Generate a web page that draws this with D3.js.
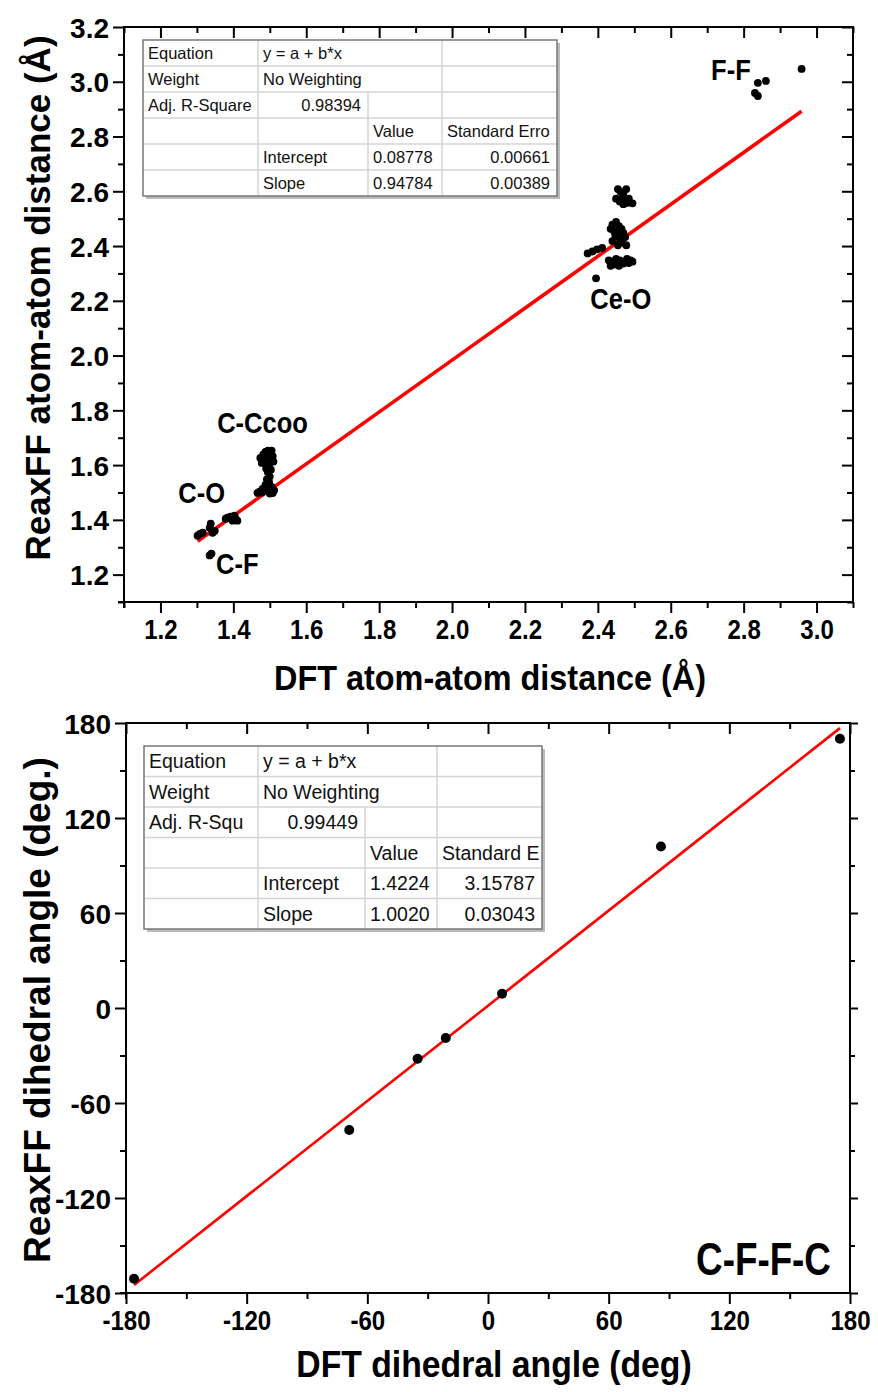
<!DOCTYPE html>
<html><head><meta charset="utf-8">
<script src="https://cdn.jsdelivr.net/npm/d3@7"></script>
<style>
body{margin:0;background:#fff}
text{font-family:"Liberation Sans",Arial,sans-serif}
</style>
</head><body>
<svg id="c" width="878" height="1392"></svg>
<script>
// ---------- Data: top panel (bond distances) ----------
const distDFT = [
  1.335,1.340,
  1.302,1.308,1.316,1.335,1.338,1.343,1.349,1.379,1.384,1.392,1.403,1.406,1.411,1.398,
  1.474,1.478,1.482,1.488,1.492,1.495,1.500,1.505,1.508,1.510,1.498,1.490,1.495,1.500,1.492,1.498,1.488,1.480,1.472,1.466,1.478,1.486,1.495,1.505,1.512,1.508,1.500,1.503,1.486,
  2.455,2.462,2.470,2.478,2.468,2.475,2.485,2.460,2.470,2.482,2.495,2.450,
  2.440,2.450,2.458,2.465,2.445,2.455,2.470,2.475,2.460,2.448,2.435,2.465,2.478,2.455,2.440,
  2.372,2.385,2.398,2.412,
  2.430,2.440,2.450,2.460,2.470,2.480,2.490,2.445,2.458,2.470,2.485,2.435,2.495,
  2.395,
  2.839,2.861,2.831,2.839,2.959
];
const distReax = [
  1.270,1.277,
  1.342,1.349,1.353,1.371,1.386,1.353,1.360,1.404,1.408,1.412,1.415,1.404,1.397,1.397,
  1.626,1.608,1.638,1.648,1.620,1.653,1.643,1.653,1.633,1.613,1.603,1.588,1.573,1.558,1.548,1.538,1.528,1.513,1.503,1.498,1.500,1.508,1.516,1.520,1.508,1.498,1.496,1.583,1.618,
  2.608,2.598,2.593,2.608,2.578,2.568,2.573,2.563,2.553,2.558,2.556,2.573,
  2.478,2.488,2.473,2.463,2.453,2.448,2.448,2.433,2.428,2.438,2.463,2.413,2.403,2.403,2.418,
  2.373,2.380,2.388,2.393,
  2.348,2.343,2.353,2.348,2.343,2.353,2.348,2.333,2.328,2.336,2.338,2.328,2.343,
  2.282,
  2.996,3.003,2.959,2.948,3.047
];
const distLabels = ["C-F","C-O","C-Ccoo","Ce-O","F-F"];
const distLabelX = [1.411,1.313,1.480,2.463,2.765];
const distLabelY = [1.240,1.500,1.756,2.209,3.044];
const distXTicks = [1.2,1.4,1.6,1.8,2.0,2.2,2.4,2.6,2.8,3.0];
const distYTicks = [1.2,1.4,1.6,1.8,2.0,2.2,2.4,2.6,2.8,3.0,3.2];
const distFit = {a:0.08778, b:0.94784};
const distTable = [
  ["Equation","y = a + b*x","",""],
  ["Weight","No Weighting","",""],
  ["Adj. R-Square","0.98394","",""],
  ["","","Value","Standard Erro"],
  ["","Intercept","0.08778","0.00661"],
  ["","Slope","0.94784","0.00389"]
];

// ---------- Data: bottom panel (dihedral angles) ----------
const angDFT  = [-176,-69,-35,-21,7,86,175];
const angReax = [-171,-77,-32,-19,9,102,170];
const angTicks = [-180,-120,-60,0,60,120,180];
const angFit = {a:1.4224, b:1.0020};
const angTable = [
  ["Equation","y = a + b*x","",""],
  ["Weight","No Weighting","",""],
  ["Adj. R-Squ","0.99449","",""],
  ["","","Value","Standard E"],
  ["","Intercept","1.4224","3.15787"],
  ["","Slope","1.0020","0.03043"]
];
const angLabel = "C-F-F-C";

// ---------- Drawing ----------
const svg = d3.select("#c");

function panel(o){
  const g = svg.append("g").attr("transform",`translate(${o.left},${o.top})`);
  const W = o.right-o.left, H = o.bottom-o.top;
  const x = d3.scaleLinear().domain(o.xDomain).range([0,W]);
  const y = d3.scaleLinear().domain(o.yDomain).range([H,0]);

  const styleAxis = sel => {
    sel.selectAll("path.domain").remove();
    sel.selectAll(".tick line").attr("stroke","#000").attr("stroke-width",2);
  };
  const gb = g.append("g").attr("transform",`translate(0,${H})`)
    .call(d3.axisBottom(x).tickValues(o.xMajor).tickSize(11).tickFormat(o.xFmt));
  styleAxis(gb);
  gb.selectAll("text").attr("y",17).attr("dy","0.71em")
    .attr("font-size",o.tickFont).attr("font-weight","bold").attr("fill","#000")
    .attr("transform","scale(0.86,1)");
  const gbm = g.append("g").attr("transform",`translate(0,${H})`)
    .call(d3.axisBottom(x).tickValues(o.xMinor).tickSize(6).tickFormat(""));
  styleAxis(gbm);
  const gl = g.append("g")
    .call(d3.axisLeft(y).tickValues(o.yMajor).tickSize(11).tickFormat(o.yFmt));
  styleAxis(gl);
  gl.selectAll("text").attr("x",-15).attr("dy","0.36em")
    .attr("font-size",o.tickFont).attr("font-weight","bold").attr("fill","#000");
  const glm = g.append("g").call(d3.axisLeft(y).tickValues(o.yMinor).tickSize(6).tickFormat(""));
  styleAxis(glm);
  const gt = g.append("g").call(d3.axisTop(x).tickValues(o.xMajor).tickSize(-11).tickFormat(""));
  styleAxis(gt);
  const gtm = g.append("g").call(d3.axisTop(x).tickValues(o.xMinor).tickSize(-6).tickFormat(""));
  styleAxis(gtm);
  const gr = g.append("g").attr("transform",`translate(${W},0)`)
    .call(d3.axisRight(y).tickValues(o.yMajor).tickSize(o.rightIn?-11:8).tickFormat(""));
  styleAxis(gr);
  const grm = g.append("g").attr("transform",`translate(${W},0)`)
    .call(d3.axisRight(y).tickValues(o.yMinor).tickSize(o.rightIn?-6:5).tickFormat(""));
  styleAxis(grm);
  g.append("rect").attr("x",0).attr("y",0).attr("width",W).attr("height",H)
    .attr("fill","none").attr("stroke","#000").attr("stroke-width",2);
  g.append("line").attr("x1",-6).attr("x2",0).attr("y1",H).attr("y2",H).attr("stroke","#000").attr("stroke-width",2);
  g.append("line").attr("x1",0).attr("x2",0).attr("y1",H).attr("y2",H+6).attr("stroke","#000").attr("stroke-width",2);

  const xs = d3.extent(o.xs);
  g.append("line")
    .attr("x1",x(xs[0])).attr("y1",y(o.fit.a+o.fit.b*xs[0]))
    .attr("x2",x(xs[1])).attr("y2",y(o.fit.a+o.fit.b*xs[1]))
    .attr("stroke","#ff0000").attr("stroke-width",o.lineW);
  g.append("g").selectAll("circle").data(o.xs.map((v,i)=>[v,o.ys[i]])).join("circle")
    .attr("cx",d=>x(d[0])).attr("cy",d=>y(d[1])).attr("r",o.r).attr("fill","#000");

  svg.append("text").attr("transform",`translate(${o.yTitleX},${o.yTitleY}) rotate(-90)`)
    .attr("text-anchor","middle").attr("font-size",o.yTitleFont).attr("font-weight","bold").text(o.yTitle);
  svg.append("text").attr("transform",`translate(${o.xTitleX},${o.xTitleY}) scale(0.9,1)`)
    .attr("text-anchor","middle").attr("font-size",o.xTitleFont).attr("font-weight","bold").text(o.xTitle);

  const tb = o.table;
  const tg = svg.append("g").attr("transform",`translate(${tb.x},${tb.y})`);
  const cols = tb.cols, rh = tb.rh, nR = tb.rows.length;
  const TW = cols[cols.length-1], TH = rh*nR;
  tg.append("rect").attr("x",3).attr("y",3).attr("width",TW).attr("height",TH).attr("fill","#bbb");
  tg.append("rect").attr("x",0).attr("y",0).attr("width",TW).attr("height",TH).attr("fill","#fff");
  for(let r=1;r<nR;r++) tg.append("line").attr("x1",0).attr("x2",TW).attr("y1",r*rh).attr("y2",r*rh).attr("stroke","#d4d4d4").attr("stroke-width",1.5);
  [1,3].forEach(c=>tg.append("line").attr("x1",cols[c]).attr("x2",cols[c]).attr("y1",0).attr("y2",TH).attr("stroke","#d4d4d4").attr("stroke-width",1.5));
  tg.append("line").attr("x1",cols[2]).attr("x2",cols[2]).attr("y1",2*rh).attr("y2",TH).attr("stroke","#d4d4d4").attr("stroke-width",1.5);
  tg.append("rect").attr("x",0).attr("y",0).attr("width",TW).attr("height",TH).attr("fill","none").attr("stroke","#777").attr("stroke-width",1.5);
  const rightAligned = (r,c)=> (r===2&&c===1)||(r>=4&&c===3);
  tb.rows.forEach((row,r)=>row.forEach((t,c)=>{
    if(!t) return;
    const ra = rightAligned(r,c);
    tg.append("text")
      .attr("x", ra ? cols[c+1]-7 : cols[c]+5)
      .attr("y", r*rh+rh/2).attr("dy","0.36em")
      .attr("text-anchor", ra?"end":"start")
      .attr("font-size",tb.font).attr("fill","#111").text(t);
  }));

  return {g,x,y};
}

const topP = panel({
  left:124,right:853,top:27,bottom:602,
  xDomain:[1.1,3.1], yDomain:[1.1,3.2],
  xMajor:distXTicks, xMinor:d3.range(11,32,2).map(v=>v/10),
  yMajor:distYTicks, yMinor:d3.range(11,32,2).map(v=>v/10),
  xFmt:d3.format(".1f"), yFmt:d3.format(".1f"),
  tickFont:28, yTitleFont:35, xTitleFont:36, rightIn:true,
  xs:distDFT, ys:distReax, fit:distFit, lineW:3.6, r:3.9,
  yTitle:"ReaxFF atom-atom distance (Å)", xTitle:"DFT atom-atom distance (Å)",
  yTitleX:50, yTitleY:298, xTitleX:490, xTitleY:690,
  table:{x:143,y:40,cols:[0,115,225,299,414],rh:26,rows:distTable,font:16.5}
});
topP.g.append("g").selectAll("text").data(distLabels).join("text")
  .attr("transform",(d,i)=>`translate(${topP.x(distLabelX[i])},${topP.y(distLabelY[i])}) scale(0.88,1)`)
  .attr("text-anchor","middle").attr("dy","0.36em")
  .attr("font-size",29).attr("font-weight","bold").text(d=>d);

const botP = panel({
  left:126,right:850,top:723,bottom:1293,
  xDomain:[-180,180], yDomain:[-180,180],
  xMajor:angTicks, xMinor:d3.range(-150,180,60),
  yMajor:angTicks, yMinor:d3.range(-150,180,60),
  xFmt:d=>String(d), yFmt:d=>String(d),
  tickFont:28, yTitleFont:37, xTitleFont:37.5, rightIn:false,
  xs:angDFT, ys:angReax, fit:angFit, lineW:2.6, r:5,
  yTitle:"ReaxFF dihedral angle (deg.)", xTitle:"DFT dihedral angle (deg)",
  yTitleX:50, yTitleY:1010, xTitleX:494, xTitleY:1377,
  table:{x:144,y:746,cols:[0,114,221,293,398],rh:30.5,rows:angTable,font:19.5}
});
botP.g.append("text")
  .attr("transform",`translate(${botP.x(137)},${botP.y(-158)}) scale(0.8,1)`)
  .attr("text-anchor","middle").attr("dy","0.36em")
  .attr("font-size",46).attr("font-weight","bold").text(angLabel);
</script>
</body></html>
